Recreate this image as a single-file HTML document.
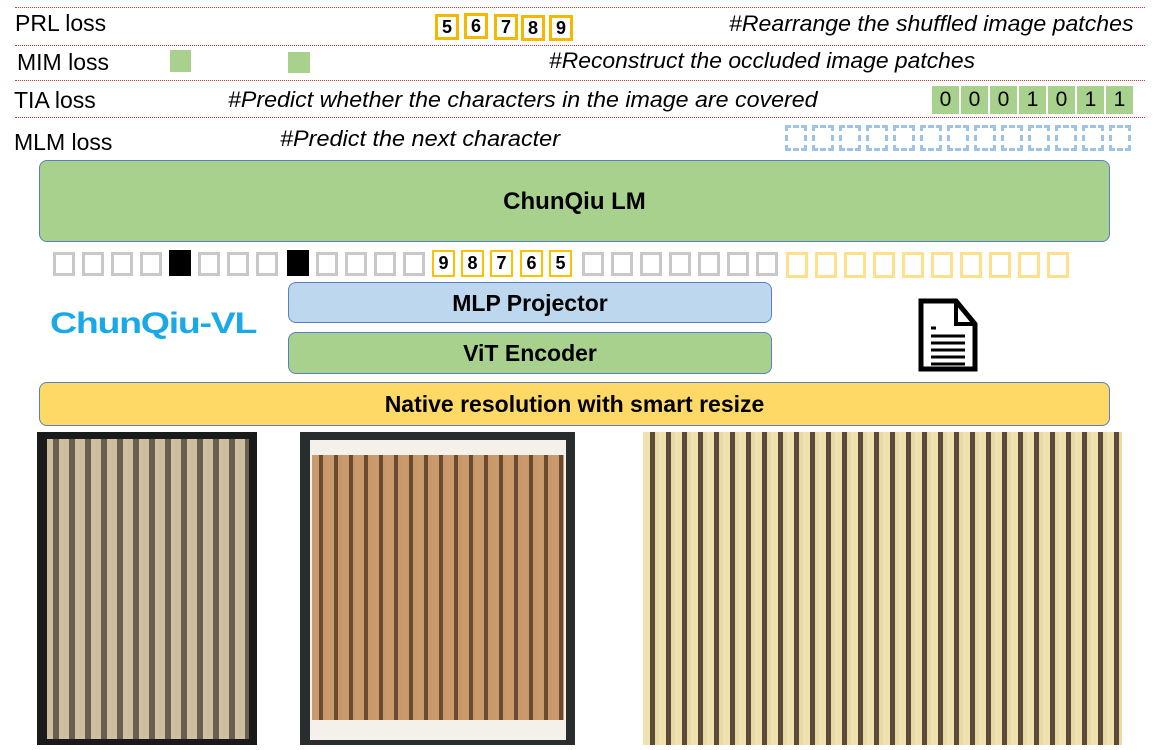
<!DOCTYPE html>
<html><head><meta charset="utf-8"><style>
*{margin:0;padding:0;box-sizing:border-box}
body{width:1156px;height:750px;background:#fff;position:relative;overflow:hidden;font-family:"Liberation Sans",sans-serif}
.a{position:absolute}
.dl{position:absolute;left:15px;width:1130px;border-top:1px dotted #e03030}
.lbl{position:absolute;font-size:23px;color:#000}
.it{position:absolute;font-style:italic;font-size:22px;color:#000;white-space:nowrap;transform-origin:0 0}
.ob{position:absolute;width:24px;height:26px;border:3px solid #f5b800;background:#fff;font-size:18px;font-weight:bold;text-align:center;line-height:20px}
.gb{position:absolute;width:27px;height:28px;background:#a9d18e;font-size:21px;text-align:center;line-height:28px}
.db{position:absolute;top:125px;width:22px;height:26px;border:3px dashed #9dc3e6}
.tk{position:absolute;top:252px;width:22px;height:24px;border:3px solid #c8c8c8}
.bk{position:absolute;top:250px;width:22px;height:26px;background:#000}
.yk{position:absolute;top:252px;width:22px;height:26px;border:3px solid #ffe08a}
.ok{position:absolute;top:250px;width:23px;height:27px;background:#ffc000;padding:2px}
.ok span{display:block;background:#fff;height:100%;font-size:18px;font-weight:bold;text-align:center;line-height:22px}
.box{position:absolute;border:1px solid #5a7fc0;border-radius:8px;text-align:center;font-weight:bold;color:#000}
</style></head><body>
<div class="dl" style="top:7px"></div>
<div class="dl" style="top:45px"></div>
<div class="dl" style="top:80px"></div>
<div class="dl" style="top:117px"></div>

<div class="lbl" style="left:15px;top:10px">PRL loss</div>
<div class="lbl" style="left:17px;top:49px">MIM loss</div>
<div class="lbl" style="left:14px;top:87px">TIA loss</div>
<div class="lbl" style="left:14px;top:129px">MLM loss</div>

<div class="ob" style="left:435px;top:14px">5</div>
<div class="ob" style="left:464px;top:13px">6</div>
<div class="ob" style="left:494px;top:14px">7</div>
<div class="ob" style="left:521px;top:15px">8</div>
<div class="ob" style="left:549px;top:15px">9</div>
<div class="it" style="left:729px;top:11px;transform:scaleX(1.05)">#Rearrange the shuffled image patches</div>

<div class="a" style="left:170px;top:50px;width:21px;height:22px;background:#a9d18e"></div>
<div class="a" style="left:288px;top:52px;width:22px;height:21px;background:#a9d18e"></div>
<div class="it" style="left:549px;top:48px;transform:scaleX(1.04)">#Reconstruct the occluded image patches</div>

<div class="it" style="left:228px;top:87px;transform:scaleX(1.055)">#Predict whether the characters in the image are covered</div>
<div class="gb" style="left:932px;top:86px">0</div>
<div class="gb" style="left:961px;top:86px">0</div>
<div class="gb" style="left:990px;top:86px">0</div>
<div class="gb" style="left:1019px;top:86px">1</div>
<div class="gb" style="left:1048px;top:86px">0</div>
<div class="gb" style="left:1077px;top:86px">1</div>
<div class="gb" style="left:1106px;top:86px">1</div>

<div class="it" style="left:280px;top:126px;transform:scaleX(1.065)">#Predict the next character</div>
<div class="db" style="left:785px"></div><div class="db" style="left:812px"></div><div class="db" style="left:839px"></div><div class="db" style="left:866px"></div><div class="db" style="left:893px"></div><div class="db" style="left:920px"></div><div class="db" style="left:947px"></div><div class="db" style="left:974px"></div><div class="db" style="left:1001px"></div><div class="db" style="left:1028px"></div><div class="db" style="left:1055px"></div><div class="db" style="left:1082px"></div><div class="db" style="left:1109px"></div>

<div class="box" style="left:39px;top:160px;width:1071px;height:82px;background:#a9d18e;font-size:24px;line-height:82px">ChunQiu LM</div>

<div class="tk" style="left:53px"></div><div class="tk" style="left:82px"></div><div class="tk" style="left:111px"></div><div class="tk" style="left:140px"></div>
<div class="bk" style="left:169px"></div>
<div class="tk" style="left:198px"></div><div class="tk" style="left:227px"></div><div class="tk" style="left:256px"></div>
<div class="bk" style="left:287px"></div>
<div class="tk" style="left:316px"></div><div class="tk" style="left:345px"></div><div class="tk" style="left:374px"></div><div class="tk" style="left:403px"></div>
<div class="ok" style="left:432px"><span>9</span></div>
<div class="ok" style="left:461px"><span>8</span></div>
<div class="ok" style="left:490px"><span>7</span></div>
<div class="ok" style="left:520px"><span>6</span></div>
<div class="ok" style="left:549px"><span>5</span></div>
<div class="tk" style="left:582px"></div><div class="tk" style="left:611px"></div><div class="tk" style="left:640px"></div><div class="tk" style="left:669px"></div><div class="tk" style="left:698px"></div><div class="tk" style="left:727px"></div><div class="tk" style="left:756px"></div>
<div class="yk" style="left:786px"></div><div class="yk" style="left:815px"></div><div class="yk" style="left:844px"></div><div class="yk" style="left:873px"></div><div class="yk" style="left:902px"></div><div class="yk" style="left:931px"></div><div class="yk" style="left:960px"></div><div class="yk" style="left:989px"></div><div class="yk" style="left:1018px"></div><div class="yk" style="left:1047px"></div>

<div class="a" style="left:50px;top:307px;font-size:30px;font-weight:900;color:#1aa9e8;letter-spacing:-1px;transform-origin:0 0;transform:scaleX(1.25);white-space:nowrap">ChunQiu-VL</div>
<div class="box" style="left:288px;top:282px;width:484px;height:41px;background:#bdd7ee;font-size:23px;line-height:40px">MLP Projector</div>
<div class="box" style="left:288px;top:332px;width:484px;height:42px;background:#a9d18e;font-size:23px;line-height:41px">ViT Encoder</div>

<svg class="a" style="left:918px;top:298px" width="60" height="74" viewBox="0 0 60 74">
<path d="M3 3 H38 L57 26 V71 H3 Z" fill="#fff" stroke="#000" stroke-width="5"/>
<path d="M38 3 V26 H57" fill="none" stroke="#000" stroke-width="4"/>
<g stroke="#000" stroke-width="3"><line x1="13" y1="30" x2="18" y2="30"/><line x1="13" y1="38" x2="47" y2="38"/><line x1="13" y1="45" x2="47" y2="45"/><line x1="13" y1="52" x2="47" y2="52"/><line x1="13" y1="59" x2="47" y2="59"/><line x1="13" y1="66" x2="47" y2="66"/></g>
</svg>

<div class="box" style="left:39px;top:382px;width:1071px;height:44px;background:#ffd966;font-size:23px;line-height:43px">Native resolution with smart resize</div>

<div class="a" style="left:37px;top:432px;width:220px;height:313px;background:#1a1a1a"></div>
<div class="a" style="left:47px;top:439px;width:202px;height:300px;background:repeating-linear-gradient(90deg,#d6c6a6 0 6px,#6e6252 6px 12px,#d8c9aa 12px 16px);opacity:.95"></div>
<div class="a" style="left:300px;top:432px;width:275px;height:313px;background:#2a2d2e"></div>
<div class="a" style="left:310px;top:440px;width:256px;height:300px;background:#f4f1ea"></div>
<div class="a" style="left:312px;top:455px;width:252px;height:265px;background:repeating-linear-gradient(90deg,#c99a6c 0 7px,#6a4a30 7px 11px,#c8986a 11px 15px)"></div>
<div class="a" style="left:643px;top:432px;width:479px;height:313px;background:repeating-linear-gradient(90deg,#efe2b0 0 7px,#5e4a38 7px 12px,#e9d9a4 12px 16px)"></div>
</body></html>
